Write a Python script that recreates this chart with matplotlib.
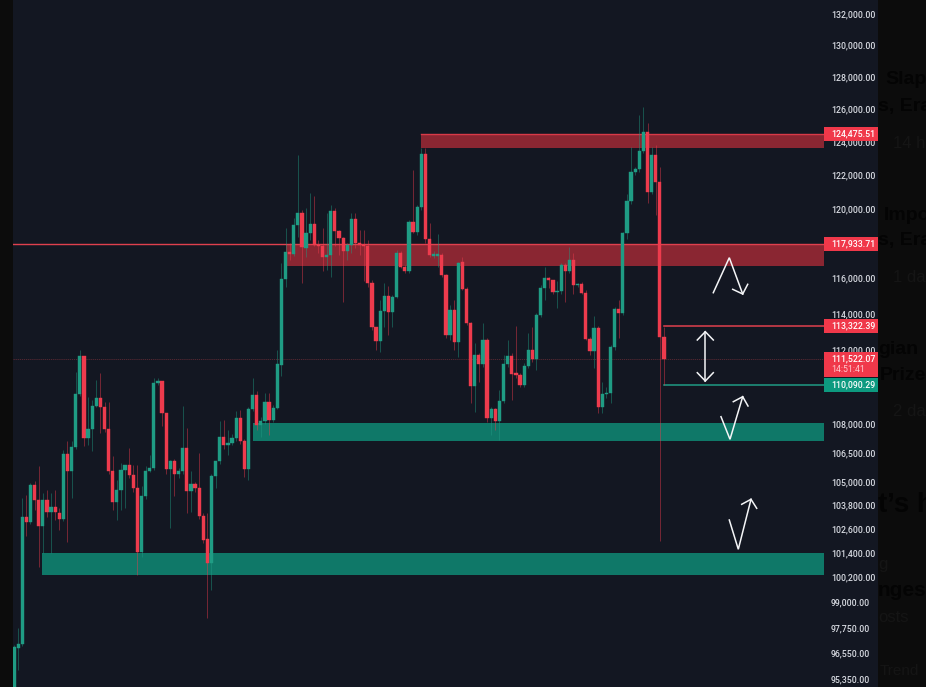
import math
import matplotlib
matplotlib.use("Agg")
import matplotlib.pyplot as plt
from matplotlib.patches import Rectangle
from matplotlib.transforms import blended_transform_factory

plt.rcParams['font.family'] = ['Roboto', 'DejaVu Sans']

opens = [94500,96810,97000,103230,102930,104810,104080,102760,104080,103470,103710,103430,103090,106430,105550,106790,109620,111690,107260,107740,
108970,109380,108900,107740,105550,103960,104560,105620,105850,105340,104660,101470,104260,105550,105710,110220,110280,108610,105660,106070,
105390,105550,106770,104510,104880,104660,103270,102090,100930,105310,106070,107300,106890,107000,107260,108320,107100,105660,108810,109570,
107970,108150,109160,108240,108880,111170,115950,117480,117360,119040,119780,117720,118580,119120,117910,117820,117230,117340,119900,118710,
118290,117570,117910,119390,118000,117910,117820,115710,113240,112500,114150,115010,114110,114960,117420,116650,116420,119220,118630,120080,
123260,118260,117260,117260,117320,116160,112820,114210,112440,116900,115370,113470,110060,111720,111210,112540,108320,108810,108170,109220,
111230,111660,110720,110610,110090,111120,111990,111480,113910,115420,115980,115870,115240,115290,116750,116400,117030,115600,115650,115160,
112600,111950,113200,108935,109600,109650,112130,114260,114020,118560,120450,122170,122340,123440,124570,121000,123200,121610,112710]
closes = [96870,97000,103230,102930,104810,104080,102760,104080,103470,103710,103470,103090,106430,105550,106790,109620,111690,107260,107740,108970,
109380,108900,107740,105550,103960,104560,105620,105850,105340,104660,101470,104260,105550,105710,110220,110280,108610,105660,106070,105390,
105550,106770,104510,104880,104660,103270,102060,100930,105310,106070,107300,106890,107000,107260,108320,107100,105660,108810,109570,107970,
108150,109160,108240,108880,111220,115950,117480,117360,119040,119780,117760,118580,119120,117910,117820,117230,117340,119900,118710,118290,
117570,117910,119390,118000,117910,117820,115710,113240,112500,114150,115010,114110,114960,117420,116650,116420,119220,118630,120080,123260,
118260,117320,117360,117380,116160,112820,114210,112440,116840,115370,113470,110060,111720,111210,112540,108320,108810,108170,109220,111230,
111660,110670,110610,110090,111120,111990,111480,113910,115420,115980,115870,115240,115290,116750,116400,117030,115600,115650,115160,112600,
111950,113200,108935,109600,109650,112130,114260,114020,118560,120450,122170,122340,123440,124570,121000,123200,121610,112710,111480]
highs = [96950,97740,104170,104340,104930,105020,105790,104420,104590,104420,104560,103650,106660,107090,107090,110820,112000,111690,109470,109290,
110370,110730,109200,109200,106310,105100,105970,105880,106740,105880,105880,104760,105790,106400,110460,110460,110330,108610,106100,106200,
105700,108940,107790,105530,105000,106480,103400,103400,105400,106070,108150,108240,107700,107500,108700,108760,107200,108900,110460,109750,
108400,109660,109660,109000,112000,116840,118870,117990,119450,123210,119940,120030,120910,120780,118190,118870,119740,120230,120030,118770,
118380,118000,119740,119740,118770,118770,118190,115900,113280,114770,115710,115530,115050,117630,117530,116750,119360,122300,120230,123610,
123610,119160,117530,118540,117420,116250,114490,114770,116940,117220,115500,113560,112360,111810,113470,112630,108935,108850,109820,111720,
112540,111810,113290,110720,111270,112910,113280,114030,115600,116650,116080,115920,115810,116850,116850,117800,117410,115730,115790,115320,
112720,113880,113330,110270,110000,112260,114390,114770,118660,120900,123690,122500,125630,126150,125130,123690,123780,122500,113260]
lows = [94500,95770,96900,102260,102850,103570,100730,101390,103200,101390,103060,102560,103000,101970,104170,106700,109500,106830,106910,106570,
108900,107530,107600,105400,103570,103060,103570,103650,105200,104500,100330,101230,104100,105500,105600,110100,107900,105400,102640,104260,
105200,105400,103400,103480,104500,103100,101900,98220,99590,104700,105900,106700,106400,106900,107100,106950,105270,105100,108700,107700,
107300,108000,107440,108100,108800,110550,115510,117030,117250,118380,115710,117230,118190,117820,117440,116430,116460,116080,117820,117320,
114680,117030,117440,117720,117320,115810,115510,113090,111990,111900,113280,112820,113280,114870,116550,116270,116270,118580,118480,119940,
118000,117230,117120,116650,116080,112640,112530,111990,111630,115300,113370,109110,108670,110270,111080,108140,107430,107700,107170,109110,
111080,109290,110450,110000,110000,110990,111350,110900,113820,114770,115420,115130,114290,115130,114670,116270,115130,115500,115080,112540,
111720,110990,108580,108580,109400,109110,111980,112630,113920,118270,120310,122000,122200,123300,120350,120860,119620,102000,110090]

tick_values = [132000,130000,128000,126000,124000,122000,120000,118000,116000,114000,112000,108000,106500,105000,103800,102600,101400,100200,99000,97750,96550,95350]
tick_labels = ['132,000.00','130,000.00','128,000.00','126,000.00','124,000.00','122,000.00','120,000.00','118,000.00','116,000.00','114,000.00','112,000.00',
               '108,000.00','106,500.00','105,000.00','103,800.00','102,600.00','101,400.00','100,200.00','99,000.00','97,750.00','96,550.00','95,350.00']

zone_starts = [99, 66, 58.2, 6.8]
zone_tops = [124475.51, 117933.71, 108063, 101410]
zone_bottoms = [123625, 116690, 107115, 100320]

level_high = 124475.51
level_mid = 117933.71
level_upper = 113322.39
level_last = 111522.07
level_lower = 110090.29
countdown = '14:51:41'

# Background page fragments (x, y, text, size, weight, colour)
page_text = [
    (885, 80, 'Slap', 14, 'bold', '#040404'), (878, 107, 's, Era', 14, 'bold', '#040404'),
    (893, 143, '14 h', 12, 'normal', '#151515'),
    (884, 215, 'Impo', 14, 'bold', '#040404'), (878, 241, 's, Era', 14, 'bold', '#040404'),
    (893, 278, '1 da', 12, 'normal', '#151515'),
    (878, 349, 'gian', 14, 'bold', '#040404'), (880, 376, 'Prize', 14, 'bold', '#040404'),
    (893, 412, '2 da', 12, 'normal', '#151515'),
    (878, 505, 't\u2019s h', 20, 'bold', '#040404'),
    (878, 565, 'g', 12, 'normal', '#151515'), (878, 590, 'nges', 15, 'bold', '#040404'),
    (878, 618, 'osts', 12, 'normal', '#151515'), (880, 671, 'Trend', 11, 'normal', '#151515'),
]

# Hand-drawn arrows on the picture, in picture pixels
sketch_lines = [
    [(713.3,292.7),(729.3,257.7),(742.7,294)], [(732.7,289.3),(742.7,294),(747.7,284.3)],
    [(705.3,331.7),(705.3,381)], [(697.3,340),(705.3,331.7),(713.3,340)], [(697.3,372.7),(705.3,381),(713.3,372.7)],
    [(721,416.7),(730,439.3),(742.7,396.7)], [(733.3,401.7),(742.7,396.7),(748,406)],
    [(729.3,520),(738.3,549.3),(751,499.3)], [(741.7,504.3),(751,499.3),(756.7,508.3)],
]

BG = '#131722'
OUTER = '#0c0c0c'
UP = '#1f9c84'
DOWN = '#ee3b4d'
ZONE_RED = '#8a2632'
ZONE_GREEN = '#0f7868'
W, H = 926, 687

fig = plt.figure(figsize=(W/100, H/100), dpi=100, facecolor=OUTER)
for px, py, s, size, weight, col in page_text:
    fig.text(px/W, 1-py/H, s, fontsize=size, fontweight=weight, color=col, va='center', ha='left',
             family=['Liberation Sans', 'DejaVu Sans'], zorder=-2)
fig.add_artist(Rectangle((824/W, 0), 54/W, 1, transform=fig.transFigure, color=BG, lw=0, zorder=-1))

ax = fig.add_axes([13/W, 0, (824-13)/W, 1], facecolor=BG)
ax.set_zorder(1)
ax.set_yscale('log')
ax.set_ylim(94970, 132907)
n = len(opens)
step = (664-14)/(n-1)
ax.set_xlim(-1/step, (824-14)/step)
ax.set_xticks([])
ax.yaxis.tick_right()
ax.set_yticks(tick_values, tick_labels)
ax.minorticks_off()
ax.tick_params(axis='y', which='both', length=0, pad=5, labelsize=6.35, labelcolor='#d8dbe2')
for lab in ax.get_yticklabels():
    lab.set_fontweight('medium')
for sp in ax.spines.values():
    sp.set_visible(False)

# Zones
right = (824-14)/step
for i, (s, t, b) in enumerate(zip(zone_starts, zone_tops, zone_bottoms)):
    ax.fill_between([s, right], b, t, color=ZONE_RED if i < 2 else ZONE_GREEN, lw=0, zorder=1)

# Levels
ax.plot([99, right], [level_high]*2, color='#d83a48', lw=1, zorder=1.2)
ax.plot(ax.get_xlim(), [level_mid]*2, color='#e0404e', lw=1, zorder=1.2)
ax.plot(ax.get_xlim(), [level_last]*2, color='#5c2a34', lw=0.6, ls=(0, (1.5, 1)), zorder=1.2)
ax.plot([n-1, right], [level_upper]*2, color='#e0404e', lw=1.1, zorder=1.2)
ax.plot([n-1, right], [level_lower]*2, color='#1f9c84', lw=1.1, zorder=1.2)

# Candles
for i, (o, h, l, c) in enumerate(zip(opens, highs, lows, closes)):
    col = UP if c >= o else DOWN
    ax.plot([i, i], [l, h], color=col, lw=0.7, alpha=0.45, zorder=2, solid_capstyle='butt')
    ax.fill_between([i-0.39, i+0.39], min(o, c), max(o, c), color=col, lw=0.3, zorder=3)

# Price labels on the scale
tr = blended_transform_factory(fig.transFigure, ax.transData)
def box(price, up_px, down_px, colour):
    top = price*math.exp(up_px/2044)
    bottom = price*math.exp(-down_px/2044)
    r = Rectangle((824/W, bottom), 54/W, top-bottom, transform=tr, color=colour, lw=0, zorder=6, clip_on=False)
    ax.add_patch(r)
for p, col, lbl in [(level_high, '#f0384a', '124,475.51'), (level_mid, '#f0384a', '117,933.71'),
                    (level_upper, '#f0384a', '113,322.39'), (level_lower, '#0d9a80', '110,090.29')]:
    box(p, 7, 7, col)
    ax.text(831/W, p, lbl, transform=tr, color='white', fontsize=6.35, fontweight='medium', va='center', ha='left', zorder=7, clip_on=False)
box(level_last, 6.5, 18, '#f0384a')
ax.text(831/W, level_last, '111,522.07', transform=tr, color='white', fontsize=6.35, fontweight='medium', va='center', ha='left', zorder=7, clip_on=False)
ax.text(831/W, level_last*math.exp(-11/2044), countdown, transform=tr, color='#ffc9cf', fontsize=6.35, va='center', ha='left', zorder=7, clip_on=False)

# Sketch arrows
ov = fig.add_axes([0, 0, 1, 1], facecolor='none')
ov.set_zorder(5)
ov.set_xlim(0, W)
ov.set_ylim(H, 0)
ov.axis('off')
for seg in sketch_lines:
    ov.plot([q[0] for q in seg], [q[1] for q in seg], color='#f4f5f7', lw=1.1, solid_joinstyle='miter')

fig.savefig('out.png', dpi=100, facecolor=OUTER)
